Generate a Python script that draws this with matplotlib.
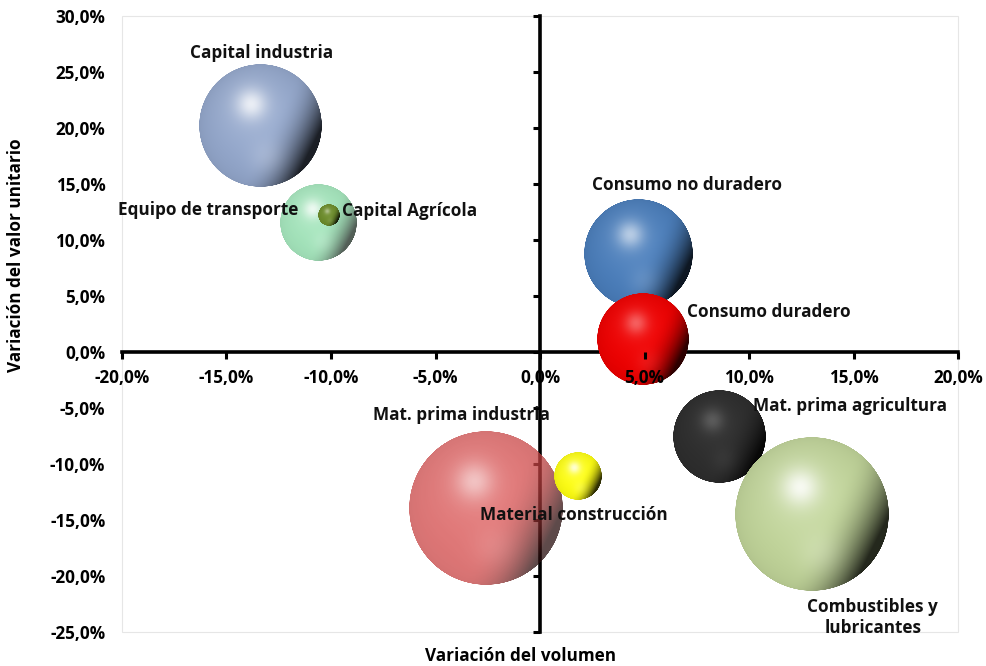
import numpy as np
import matplotlib
matplotlib.use("Agg")
import matplotlib.pyplot as plt
from matplotlib.offsetbox import OffsetImage, AnnotationBbox
from matplotlib.patches import Rectangle
from matplotlib.ticker import FuncFormatter
from matplotlib.colors import to_rgb

# ---------------- data ----------------
categories = ["Capital industria", "Equipo de transporte", "Capital Agrícola",
              "Consumo no duradero", "Consumo duradero", "Mat. prima agricultura",
              "Combustibles y\nlubricantes", "Mat. prima industria", "Material construcción"]
volumen = [-13.4, -10.6, -10.1, 4.7, 4.9, 8.6, 13.0, -2.6, 1.8]      # % x
valor = [20.2, 11.6, 12.2, 8.8, 1.1, -7.6, -14.5, -13.9, -11.1]      # % y
peso = [63, 25, 2, 50, 35, 36, 100, 100, 9.5]                       # bubble size

x_ticks = [-20, -15, -10, -5, 0, 5, 10, 15, 20]
y_ticks = [-25, -20, -15, -10, -5, 0, 5, 10, 15, 20, 25, 30]

# ---------------- style ----------------
colors = ["#94A8CD", "#84DCA4", "#6C8C2A", "#4A7EBC", "#F00000",
          "#2E2E2E", "#C2D69A", "#D84848", "#FFFF10"]
alphas = [1.0, 0.75, 1.0, 1.0, 1.0, 1.0, 1.0, 0.75, 1.0]
# label offsets in pixels from bubble centre, alignment
label_pos = [(2, 73, "center"), (-20, 12, "right"), (13, 4, "left"),
             (49, 68, "center"), (45, 28, "left"), (33, 31, "left"),
             (61, -103, "center"), (-24, 93, "center"), (-4, -39, "center")]

plt.rcParams['font.family'] = ['Open Sans', 'DejaVu Sans']
FS = 12.3

W, H, DPI = 986, 666, 100
fig = plt.figure(figsize=(W / DPI, H / DPI), dpi=DPI)
L, B, AW, AH = 122, 34, 836, 616
ax = fig.add_axes([L / W, B / H, AW / W, AH / H])
ax.set_xlim(-20, 20)
ax.set_ylim(-25, 30)


def _norm(v):
    v = np.asarray(v, float)
    return v / np.linalg.norm(v)


def sphere(base, alpha, R, ss=3):
    n = max(int(np.ceil(2 * R * ss)), 4)
    u = ((np.arange(n) + 0.5) / n) * 2 - 1
    U, V = np.meshgrid(u, -u)
    r = np.sqrt(U ** 2 + V ** 2)
    Z = np.sqrt(np.clip(1 - r ** 2, 0, 1))
    base = np.array(to_rgb(base))
    # dark side towards the lower right rim
    D = _norm([0.9, -0.45, 0.0])
    t = np.clip((U * D[0] + V * D[1] - 0.15) / 0.75, 0, 1)
    shade = 1 - 0.8 * t ** 2.1
    shade = shade * (0.9 + 0.1 * Z)
    col = base * shade[..., None]
    # highlight colour
    m = base.mean()
    target = base + (1 - base) * min(1.0, 1.2 * m)
    # soft bounce light near the bottom
    bb = np.exp(-((U - 0.1) ** 2 + (V + 0.5) ** 2) / (2 * 0.2 ** 2)) * 0.2
    col = col * (1 - bb[..., None]) + target * bb[..., None]
    # main highlight
    s = (np.exp(-((U + 0.15) ** 2 + (V - 0.35) ** 2) / (2 * 0.17 ** 2)) * 0.78
         + np.exp(-((U + 0.15) ** 2 + (V - 0.3) ** 2) / (2 * 0.4 ** 2)) * 0.2)
    s = np.clip(s, 0, 1)
    col = col * (1 - s[..., None]) + target * s[..., None]
    col = np.clip(col, 0, 1)
    edge = np.clip((1 - r) * n / 2, 0, 1)
    a = edge * alpha
    return np.dstack([col, a])


Rmax = 0.25 * min(AW, AH) / 2
pmax = max(peso)
for i, (x, y, p) in enumerate(zip(volumen, valor, peso)):
    R = Rmax * np.sqrt(p / pmax)
    ss = 3
    img = sphere(colors[i], alphas[i], R, ss)
    oi = OffsetImage(img, zoom=1 / ss, dpi_cor=False, interpolation="antialiased")
    ab = AnnotationBbox(oi, (x, y), xycoords="data", frameon=False, pad=0,
                        box_alignment=(0.5, 0.5), zorder=3 + i * 0.01)
    ax.add_artist(ab)

for i, (x, y) in enumerate(zip(volumen, valor)):
    dx, dy, ha = label_pos[i]
    ax.annotate(categories[i], (x, y), xytext=(dx, dy), textcoords="offset pixels",
                ha=ha, va="center", fontsize=FS, fontweight="bold", color="#111111",
                zorder=6, linespacing=1.2, multialignment="center")

fmt = FuncFormatter(lambda v, pos: f"{v:.1f}".replace(".", ",") + "%")

# axes lines through origin
for side in ("top", "right"):
    ax.spines[side].set_visible(False)
for side in ("left", "bottom"):
    ax.spines[side].set_position(("data", 0))
    ax.spines[side].set_linewidth(2.6)
    ax.spines[side].set_color("black")
    ax.spines[side].set_zorder(2)
ax.set_xticks(x_ticks)
ax.set_yticks(y_ticks)
ax.xaxis.set_major_formatter(fmt)
ax.tick_params(axis="x", direction="out", length=5, width=2.2, pad=7,
               labelsize=FS, colors="black")
ax.tick_params(axis="y", direction="out", length=5, width=2.2, labelleft=False)
for lab in ax.get_xticklabels():
    lab.set_fontweight("bold")
ax.xaxis.set_zorder(4)

# y tick labels at left edge of plot area
sec = ax.secondary_yaxis("left")
sec.spines["left"].set_visible(False)
sec.set_yticks(y_ticks)
sec.yaxis.set_major_formatter(fmt)
sec.tick_params(length=0, pad=12, labelsize=FS)
for lab in sec.get_yticklabels():
    lab.set_fontweight("bold")

# plot-area border
ax.add_patch(Rectangle((0, 0), 1, 1, transform=ax.transAxes, fill=False,
                       edgecolor="#E6E6E6", lw=0.8, zorder=0.5, clip_on=False))

ax.set_xlabel("Variación del volumen", fontsize=FS, fontweight="bold")
ax.xaxis.set_label_coords(0.477, -0.024)
ax.set_ylabel("Variación del valor unitario", fontsize=FS, fontweight="bold")
ax.yaxis.set_label_coords(-0.116, 0.612)

fig.savefig("out.png", dpi=DPI, facecolor="white")
